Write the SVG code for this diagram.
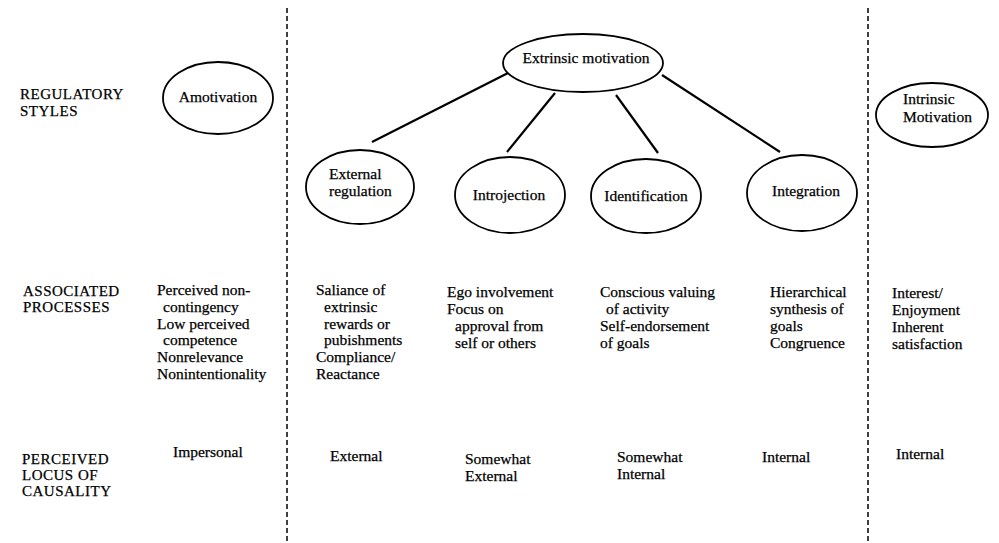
<svg xmlns="http://www.w3.org/2000/svg" width="999" height="543" viewBox="0 0 999 543">
<style>
.lab{font-size:15px;letter-spacing:0.5px}
.t{font-size:15.5px}
.b{font-size:15.5px}
.m{text-anchor:middle}
ellipse{fill:#fff;stroke:#000;stroke-width:1.8}
.dash{stroke:#000;stroke-width:1.5;stroke-dasharray:5 3;fill:none}
.con line{stroke:#000;stroke-width:2.2}
</style>
<rect width="999" height="543" fill="#fff"/>
<g id="dividers">
<line class="dash" x1="287" y1="8" x2="287" y2="543"/>
<line class="dash" x1="868" y1="8" x2="868" y2="543"/>
</g>
<g class="con" id="connectors">
<line x1="512" y1="71" x2="372" y2="142"/>
<line x1="555" y1="93" x2="507" y2="152"/>
<line x1="616" y1="95" x2="658" y2="153"/>
<line x1="662" y1="75" x2="780" y2="152"/>
</g>
<g font-family="Liberation Serif, Times New Roman, DejaVu Serif, serif" fill="#000" stroke="#000" stroke-width="0.25">
<g id="row-labels">
<text class="lab" x="20" y="99" letter-spacing="1.1">REGULATORY</text>
<text class="lab" x="20" y="116">STYLES</text>
<text class="lab" x="23" y="296">ASSOCIATED</text>
<text class="lab" x="23" y="312">PROCESSES</text>
<text class="lab" x="22" y="464">PERCEIVED</text>
<text class="lab" x="22" y="480">LOCUS OF</text>
<text class="lab" x="22" y="496">CAUSALITY</text>
</g>
<g id="amotivation">
<ellipse cx="218" cy="98" rx="55" ry="36"/>
<text class="t m" x="218" y="102">Amotivation</text>
</g>
<g id="extrinsic">
<ellipse cx="583" cy="63" rx="80" ry="29"/>
<text class="t m" x="586" y="63">Extrinsic motivation</text>
</g>
<g id="intrinsic">
<ellipse cx="932" cy="115" rx="56" ry="32"/>
<text class="t" x="903" y="104">Intrinsic</text>
<text class="t" x="903" y="122">Motivation</text>
</g>
<g id="external-regulation">
<ellipse cx="360" cy="187" rx="54" ry="37"/>
<text class="t" x="329" y="179">External</text>
<text class="t" x="329" y="196">regulation</text>
</g>
<g id="introjection">
<ellipse cx="510" cy="195" rx="55" ry="38"/>
<text class="t m" x="509" y="200">Introjection</text>
</g>
<g id="identification">
<ellipse cx="646" cy="196" rx="55" ry="37"/>
<text class="t m" x="646" y="201">Identification</text>
</g>
<g id="integration">
<ellipse cx="802" cy="193" rx="55" ry="38"/>
<text class="t m" x="806" y="196">Integration</text>
</g>
<g id="processes">
<text class="t" x="157" y="295">Perceived non-</text>
<text class="t" x="163" y="312">contingency</text>
<text class="t" x="157" y="329">Low perceived</text>
<text class="t" x="163" y="345">competence</text>
<text class="t" x="157" y="362">Nonrelevance</text>
<text class="t" x="157" y="379">Nonintentionality</text>
<text class="t" x="316" y="295">Saliance of</text>
<text class="t" x="324" y="312">extrinsic</text>
<text class="t" x="324" y="329">rewards or</text>
<text class="t" x="324" y="345">pubishments</text>
<text class="t" x="316" y="362">Compliance/</text>
<text class="t" x="316" y="379">Reactance</text>
<text class="t" x="447" y="297">Ego involvement</text>
<text class="t" x="447" y="314">Focus on</text>
<text class="t" x="455" y="331">approval from</text>
<text class="t" x="455" y="348">self or others</text>
<text class="t" x="600" y="297">Conscious valuing</text>
<text class="t" x="606" y="314">of activity</text>
<text class="t" x="600" y="331">Self-endorsement</text>
<text class="t" x="600" y="348">of goals</text>
<text class="t" x="770" y="297">Hierarchical</text>
<text class="t" x="770" y="314">synthesis of</text>
<text class="t" x="770" y="331">goals</text>
<text class="t" x="770" y="348">Congruence</text>
<text class="t" x="892" y="298">Interest/</text>
<text class="t" x="892" y="315">Enjoyment</text>
<text class="t" x="892" y="332">Inherent</text>
<text class="t" x="892" y="349">satisfaction</text>
</g>
<g id="locus">
<text class="b" x="173" y="457">Impersonal</text>
<text class="b" x="330" y="461">External</text>
<text class="b" x="465" y="464">Somewhat</text>
<text class="b" x="465" y="481">External</text>
<text class="b" x="617" y="462">Somewhat</text>
<text class="b" x="617" y="479">Internal</text>
<text class="b" x="762" y="462">Internal</text>
<text class="b" x="896" y="459">Internal</text>
</g>
</g>
</svg>
